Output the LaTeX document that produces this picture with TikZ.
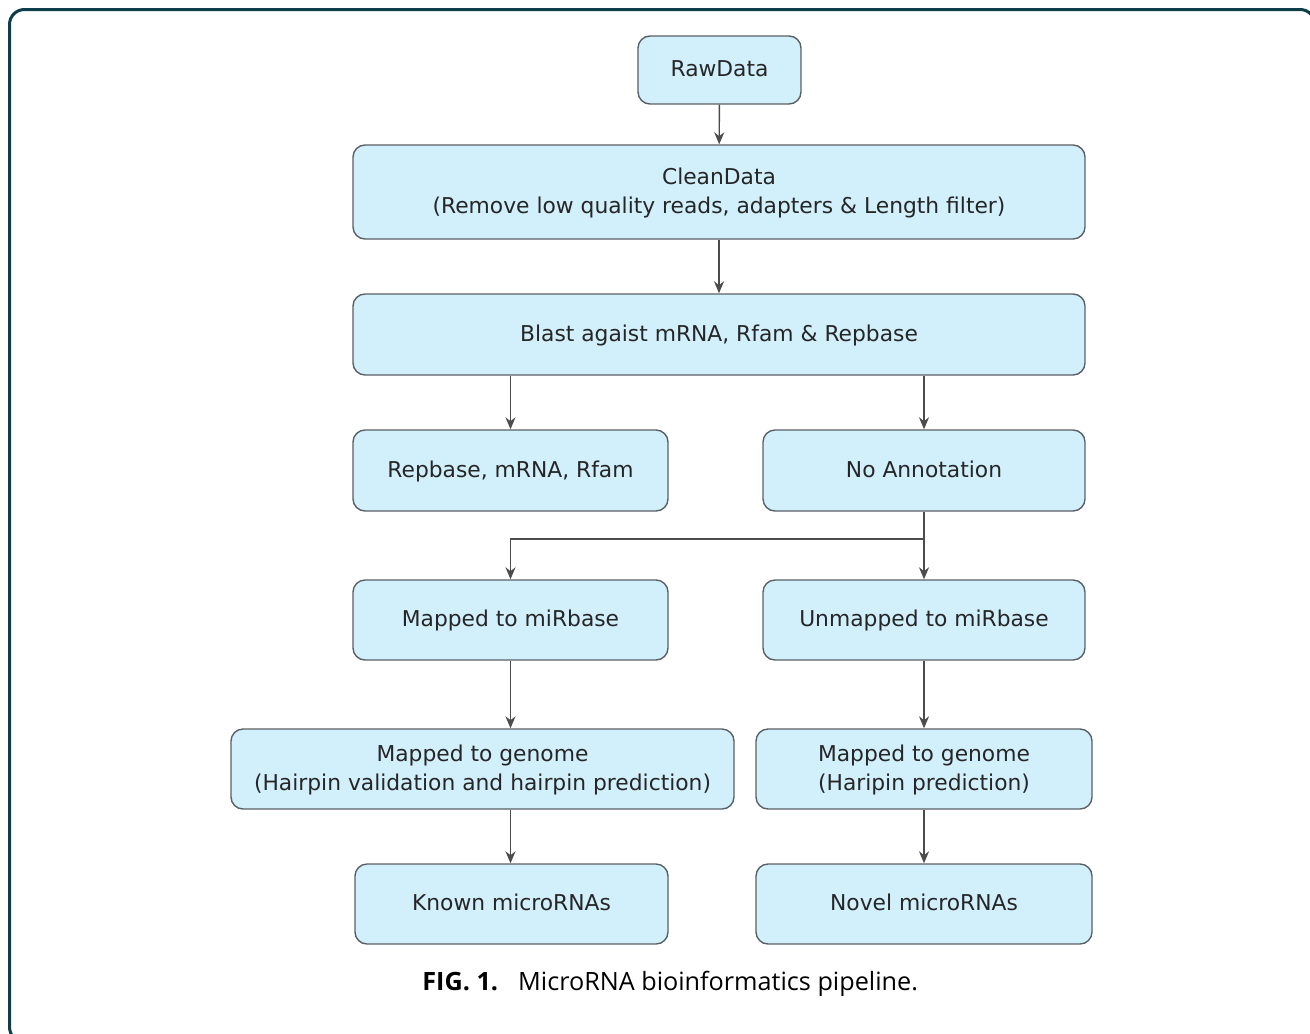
\documentclass[tikz,border=0pt]{standalone}
\usepackage{fontspec}
\setmainfont{DejaVu Sans}
\newfontfamily\capfont{Open Sans}
\usetikzlibrary{arrows.meta}
\definecolor{boxfill}{RGB}{210,240,252}
\definecolor{boxline}{RGB}{90,97,102}
\definecolor{frameteal}{RGB}{14,62,74}
\tikzset{box/.style = {draw=boxline, fill=boxfill, line width=0.7pt, rounded corners=6pt,
                       align=center, font=\fontsize{10.9}{14.5}\selectfont, text=black!85,
                       inner sep=0pt, text depth=1.5pt},
         flow/.style = {draw=black!70, line width=0.7pt, -{Stealth[length=6pt,width=5pt]}}}
\begin{document}
\begin{tikzpicture}[x=0.5pt, y=-0.5pt]
      \useasboundingbox (0,0) rectangle (1310,1033);
      \clip (0,0) rectangle (1310,1033);
      \draw [frameteal, line width=1.5pt, rounded corners=7.5pt] (9.5,9.5) rectangle (1315,1042);
      \node [box, minimum width=81.5pt, minimum height=34pt] (raw) at (719.5,70) {RawData};
      \node [box, minimum width=366pt, minimum height=47pt] (clean) at (719,192)
            {CleanData\\(Remove low quality reads, adapters \& Length filter)};
      \node [box, minimum width=366pt, minimum height=40.5pt] (blast) at (719,334.5)
            {Blast agaist mRNA, Rfam \& Repbase};
      \node [box, minimum width=157.5pt, minimum height=40.5pt] (rep) at (510.5,470.5) {Repbase, mRNA, Rfam};
      \node [box, minimum width=161pt, minimum height=40.5pt] (noann) at (924,470.5) {No Annotation};
      \node [box, minimum width=157.5pt, minimum height=40pt] (mapmir) at (510.5,620) {Mapped to miRbase};
      \node [box, minimum width=161pt, minimum height=40pt] (unmapmir) at (924,620) {Unmapped to miRbase};
      \node [box, minimum width=251.5pt, minimum height=40pt] (genknown) at (482.5,769)
            {Mapped to genome\\(Hairpin validation and hairpin prediction)};
      \node [box, minimum width=168pt, minimum height=40pt] (gennovel) at (924,769)
            {Mapped to genome\\(Haripin prediction)};
      \node [box, minimum width=156.5pt, minimum height=40pt] (known) at (511.5,904) {Known microRNAs};
      \node [box, minimum width=168pt, minimum height=40pt] (novel) at (924,904) {Novel microRNAs};
      \draw [flow] (raw) -- (clean);
      \draw [flow] (clean) -- (blast);
      \draw [flow] (blast.south -| rep) -- (rep);
      \draw [flow] (blast.south -| noann) -- (noann);
      \draw [flow] (noann) -- (unmapmir);
      \coordinate (split) at (924,539);
      \draw [flow] (split) -| (mapmir);
      \draw [flow] (mapmir) -- (mapmir |- genknown.north);
      \draw [flow] (mapmir |- genknown.south) -- (mapmir |- known.north);
      \draw [flow] (unmapmir) -- (gennovel);
      \draw [flow] (gennovel) -- (novel);
      \node [font=\capfont\fontsize{12.6}{14}\selectfont, anchor=west, inner sep=0pt] (caption) at (422,984)
            {\textbf{FIG. 1.}\hspace{10pt}MicroRNA bioinformatics pipeline.};
    \end{tikzpicture}
\end{document}
